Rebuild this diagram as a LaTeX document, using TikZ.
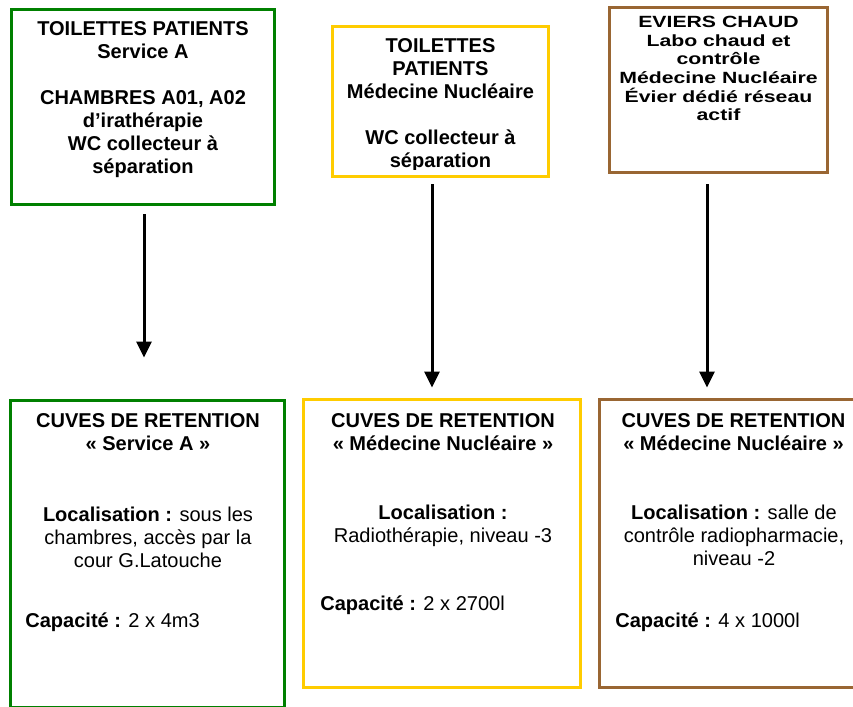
\documentclass[tikz,border=0pt]{standalone}
\usepackage{fontspec}
\setmainfont{Liberation Sans}
\usetikzlibrary{positioning, arrows.meta, calc}

\definecolor{vert}{RGB}{0,128,0}
\definecolor{jaune}{RGB}{255,204,0}
\definecolor{brun}{RGB}{153,102,51}

\begin{document}
\begin{tikzpicture}[x=0.02cm, y=-0.02cm,
		boite/.style={rectangle, draw, line width=0.6mm, inner sep=0pt},
		texte/.style={inner sep=0pt, align=center, font=\fontsize{11.4}{13.1}\selectfont},
		titre/.style={texte, font=\fontsize{11.4}{13.1}\selectfont\bfseries},
		fleche/.style={-{Triangle[width=3mm, length=3.2mm]}, line width=0.6mm}]
		\useasboundingbox (0,0) rectangle (853,707);
		\clip (0,0) rectangle (853,707);
		% top boxes - sources
		\node[boite, draw=vert, minimum width=5.28cm, minimum height=3.92cm] (t1) at (143,107) {};
		\node[boite, draw=jaune, minimum width=4.34cm, minimum height=3.02cm] (t2) at (440.5,101.5) {};
		\node[boite, draw=brun, minimum width=4.38cm, minimum height=3.32cm] (t3) at (718.5,90) {};
		% top boxes - texts
		\node[titre, anchor=north] (t1txt) at (143,21.5) {TOILETTES PATIENTS\\Service A\\[13.1pt]CHAMBRES A01, A02\\d’irathérapie\\WC collecteur à\\séparation};
		\begin{scope}
			\clip (332,26) rectangle (549,169);
			\node[titre, anchor=north] (t2txt) at (440.5,38.5) {TOILETTES\\PATIENTS\\Médecine Nucléaire\\[13.1pt]WC collecteur à\\séparation};
		\end{scope}
		\coordinate (t3top) at (718.5,16);
		\node[titre, anchor=north, transform shape, xscale=1.06, yscale=0.81] (t3txt) at (t3top) {EVIERS CHAUD\\Labo chaud et\\contrôle\\Médecine Nucléaire\\Évier dédié réseau\\actif};
		% bottom boxes - tanks
		\node[boite, draw=vert, minimum width=5.5cm, minimum height=6.16cm] (b1) at (147.5,554) {};
		\node[boite, draw=jaune, minimum width=5.56cm, minimum height=5.78cm] (b2) at (442,543.5) {};
		\node[boite, draw=brun, minimum width=5.38cm, minimum height=5.78cm] (b3) at (733.5,543.5) {};
		% bottom boxes - texts
		\node[titre, anchor=north] (b1tit) at (148,413.3) {CUVES DE RETENTION\\«~Service A~»};
		\node[texte, anchor=north] (b1loc) at (148,506.7) {\textbf{Localisation~:} sous les\\chambres, accès par la\\cour G.Latouche};
		\node[texte, anchor=north west] (b1cap) at (25,612) {\textbf{Capacité~:} 2 x 4m3};
		\node[titre, anchor=north] (b2tit) at (443,412.7) {CUVES DE RETENTION\\«~Médecine Nucléaire~»};
		\node[texte, anchor=north] (b2loc) at (443,505) {\textbf{Localisation~:}\\Radiothérapie, niveau -3};
		\node[texte, anchor=north west] (b2cap) at (320,595) {\textbf{Capacité~:} 2 x 2700l};
		\node[titre, anchor=north] (b3tit) at (733.5,413) {CUVES DE RETENTION\\«~Médecine Nucléaire~»};
		\node[texte, anchor=north] (b3loc) at (734,505) {\textbf{Localisation~:} salle de\\contrôle radiopharmacie,\\niveau -2};
		\node[texte, anchor=north west] (b3cap) at (615,612) {\textbf{Capacité~:} 4 x 1000l};
		% flow arrows
		\draw[fleche] ($(t1.south)+(1,8)$) -- ($(t1.south |- b1.north)+(1,-41)$);
		\draw[fleche] ($(t2.south)+(-8.5,6)$) -- ($(t2.south |- b2.north)+(-8.5,-10)$);
		\draw[fleche] ($(t3.south)+(-11.5,10)$) -- ($(t3.south |- b3.north)+(-11.5,-10)$);
\end{tikzpicture}
\end{document}
